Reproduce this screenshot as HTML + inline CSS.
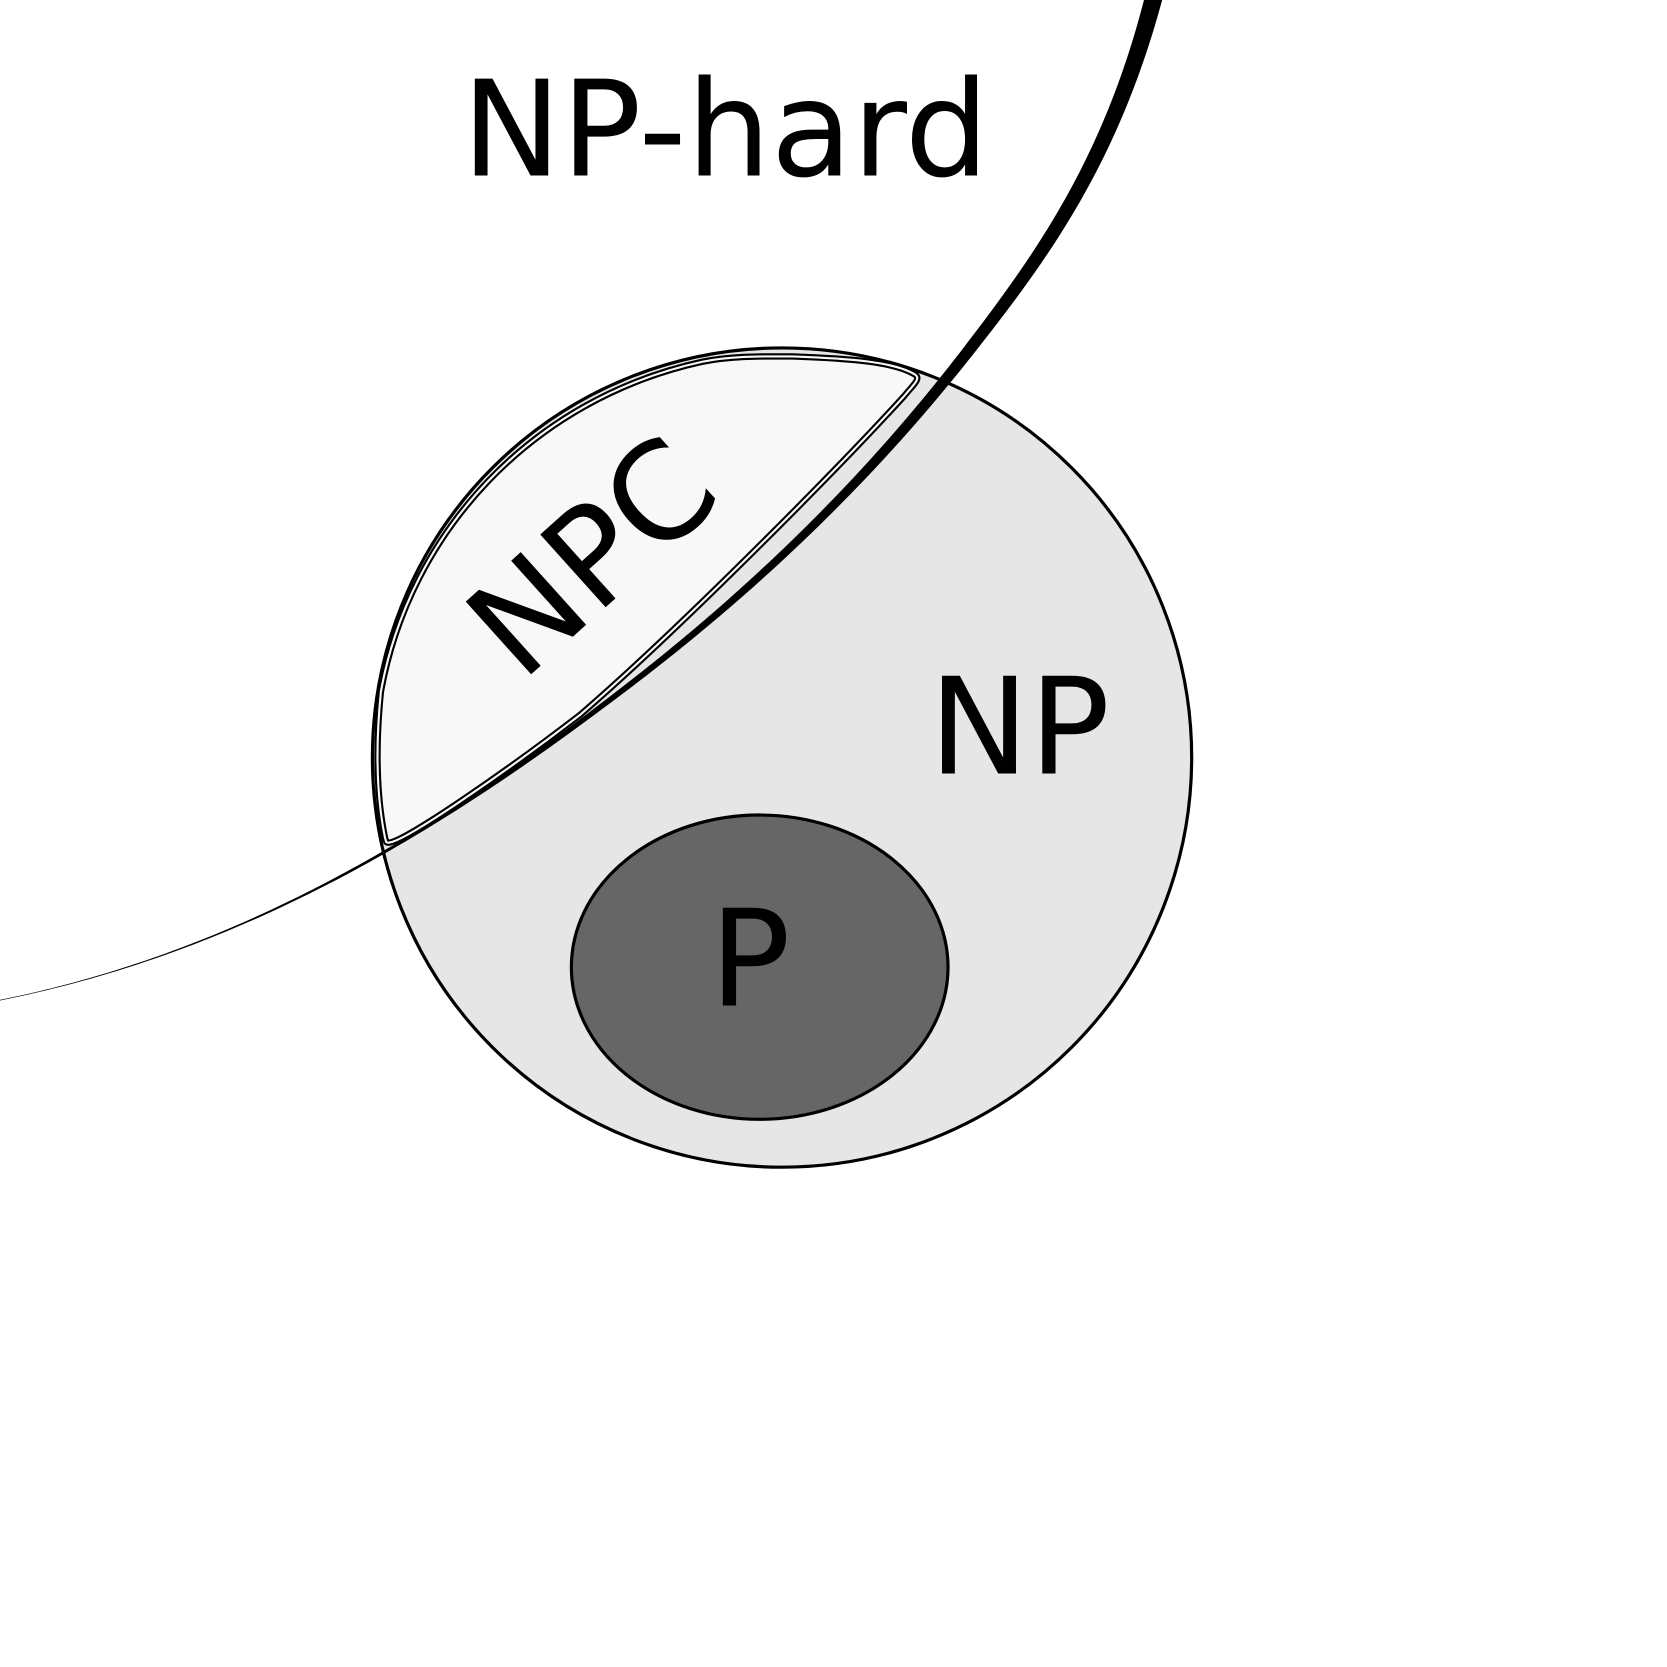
<!DOCTYPE html>
<html><head><meta charset="utf-8"><style>
html,body{margin:0;padding:0;background:#fff;}
svg{display:block;}
text{font-family:"DejaVu Sans","Liberation Sans",sans-serif;fill:#000;}
</style></head><body>
<svg width="1667" height="1667" viewBox="0 0 1667 1667">
 <g transform="scale(1.064)">
  <circle cx="735" cy="712" r="385" fill="#e6e6e6" stroke="#000" stroke-width="3"/>
  <g>
    <path d="M362,788 C352,740 354,690 358,650 C385,500 500,375 660,340 C690,334 720,335 745,335 C800,337 840,340 860,352 C866,356 858,362 850,372 C790,438 640,590 545,672 C480,722 380,792 365,792 C362,792 363,790 362,788 Z" fill="#f8f8f8" stroke="#000" stroke-width="6" stroke-linejoin="round"/>
    <path d="M362,788 C352,740 354,690 358,650 C385,500 500,375 660,340 C690,334 720,335 745,335 C800,337 840,340 860,352 C866,356 858,362 850,372 C790,438 640,590 545,672 C480,722 380,792 365,792 C362,792 363,790 362,788 Z" fill="none" stroke="#f8f8f8" stroke-width="2" stroke-linejoin="round"/>
  </g>
  <ellipse cx="714" cy="909" rx="177" ry="143" fill="#666" stroke="#000" stroke-width="3"/>
  <path id="guide" d="M0,940 C250,890 440,760 590,645 S840,420 910,330 S1045,150 1085,-5" fill="none" stroke="none"/>
  <path id="np-hard-boundary" fill="#000" stroke="none" d=""/>
  <text x="434" y="165" font-size="125">NP-hard</text>
  <text x="873" y="727" font-size="126">NP</text>
  <text x="667" y="945" font-size="126">P</text>
  <text x="0" y="0" font-size="126" transform="translate(490,642) rotate(-42)">NPC</text>
 </g>
</svg>
<script>
(function(){
  var g=document.getElementById('guide');
  var L=g.getTotalLength(), N=240, left=[], right=[];
  for(var i=0;i<=N;i++){
    var s=L*i/N, p=g.getPointAtLength(s);
    var p2=g.getPointAtLength(Math.min(L,s+1)), p1=g.getPointAtLength(Math.max(0,s-1));
    var dx=p2.x-p1.x, dy=p2.y-p1.y, d=Math.hypot(dx,dy)||1;
    var nx=-dy/d, ny=dx/d, t=i/N, w=0.6+16*Math.pow(t,1.5);
    left.push((p.x+nx*w/2).toFixed(2)+','+(p.y+ny*w/2).toFixed(2));
    right.unshift((p.x-nx*w/2).toFixed(2)+','+(p.y-ny*w/2).toFixed(2));
  }
  document.getElementById('np-hard-boundary').setAttribute('d','M'+left.join(' L')+' L'+right.join(' L')+' Z');
})();
</script>
</body></html>
